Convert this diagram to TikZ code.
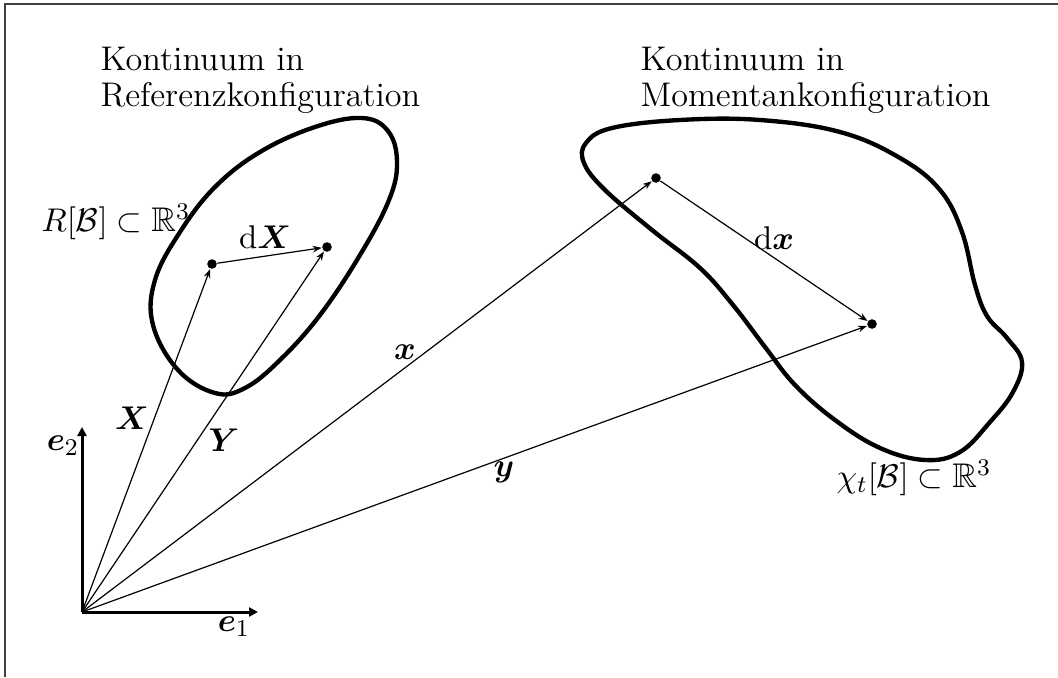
\documentclass[tikz,border=0pt]{standalone}
\usepackage{amsmath,amssymb,bm}
\usetikzlibrary{arrows.meta}
\tikzset{
  blob/.style={line width=1.45pt, line join=round},
  vec/.style={line width=0.4pt, -{Stealth[length=3pt,width=2.2pt]}},
  axis/.style={line width=1pt, -{Triangle[length=3pt,width=3pt]}},
  dot/.style={circle, fill, inner sep=0pt, minimum size=3.2pt},
  lbl/.style={inner sep=0pt},
  frameline/.style={line width=0.45pt, black!75}
}
\begin{document}
\begin{tikzpicture}[x=0.33333pt,y=-0.33333pt, font=\fontsize{11.4}{12}\selectfont]
\useasboundingbox (0,0) rectangle (1058,677);
\draw[frameline] (5,677) -- (5,4) -- (1058,4);

% titles
\node[anchor=north west, align=left, inner sep=0pt] (t1) at (100,47) {Kontinuum in\\Referenzkonfiguration};
\node[anchor=north west, align=left, inner sep=0pt] (t2) at (640,47) {Kontinuum in\\Momentankonfiguration};

% left body
\draw[blob] plot[smooth cycle, tension=0.65] coordinates {
 (362,118) (388,131) (397,162) (389,200) (360,255) (320,315) (280,360) (245,388)
 (215,393) (178,370) (153,325) (155,280) (180,232) (215,187) (260,152) (315,127)};

% right body
\draw[blob] plot[smooth cycle, tension=0.65] coordinates {
 (586,143) (612,128) (680,120) (760,120) (840,132) (900,158) (940,190) (962,232)
 (975,285) (987,316) (1007,338) (1022,362) (1013,392) (990,422) (960,452) (925,460)
 (880,448) (835,420) (795,385) (765,347) (733,305) (700,268) (652,230) (605,190) (584,163)};

% origin and axes
\coordinate (O) at (82,612);
\coordinate (E1) at (258,612);
\coordinate (E2) at (82,427);
\draw[axis] (O) -- (E1);
\draw[axis] (O) -- (E2);
\node[lbl] (le1) at (234,627) {$\bm{e}_1$};
\node[lbl] (le2) at (63,446) {$\bm{e}_2$};

% points
\node[dot] (P1) at (212,264) {};
\node[dot] (P2) at (327,247) {};
\node[dot] (P3) at (656,178) {};
\node[dot] (P4) at (872,324) {};

% vectors
\draw[vec] (O) -- (P1);
\draw[vec] (O) -- (P2);
\draw[vec] (O) -- (P3);
\draw[vec] (O) -- (P4);
\draw[vec] (P1) -- (P2);
\draw[vec] (P3) -- (P4);

% labels
\node[lbl] (lX) at (132,418) {$\bm{X}$};
\node[lbl] (lY) at (224,440) {$\bm{Y}$};
\node[lbl] (lx) at (405,352) {$\bm{x}$};
\node[lbl] (ly) at (504,472) {$\bm{y}$};
\node[lbl] (ldX) at (265,237) {$\mathrm{d}\bm{X}$};
\node[lbl] (ldx) at (774,238) {$\mathrm{d}\bm{x}$};
\node[lbl] (lR) at (116,222) {$R[\mathcal{B}]\subset\mathbb{R}^3$};
\node[lbl] (lchi) at (914,478) {$\chi_t[\mathcal{B}]\subset\mathbb{R}^3$};
\end{tikzpicture}
\end{document}
